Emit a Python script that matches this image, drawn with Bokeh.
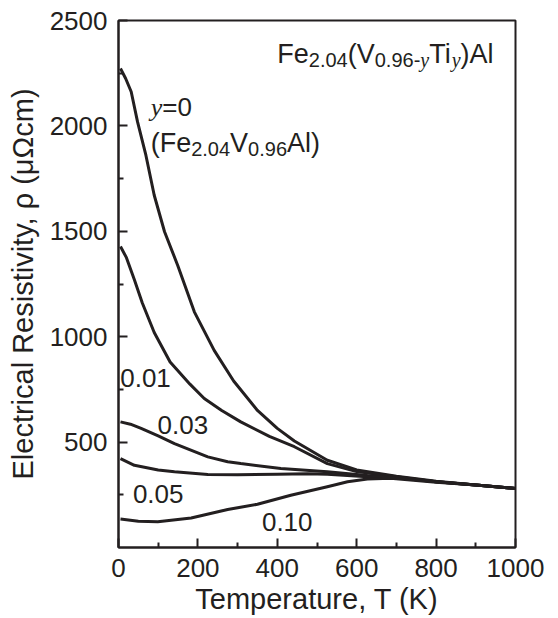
from bokeh.plotting import figure
from bokeh.models import FixedTicker, Label, Range1d
from bokeh.embed import file_html
from bokeh.resources import INLINE

# ---------------- data ----------------
T_y000 = [5, 18, 32, 48, 69, 90, 116, 149, 191, 241, 290, 350, 400, 443, 526, 600, 700, 800, 900, 1000]
R_y000 = [2272, 2225, 2162, 2019, 1861, 1671, 1498, 1339, 1118, 935, 790, 650, 565, 505, 414, 368, 338, 314, 296, 280]

T_y001 = [5, 20, 40, 60, 90, 130, 180, 216, 260, 308, 380, 443, 526, 600, 700, 800, 900, 1000]
R_y001 = [1428, 1375, 1270, 1160, 1020, 880, 775, 707, 650, 596, 527, 478, 398, 360, 336, 312, 296, 280]

T_y003 = [5, 30, 57, 100, 141, 225, 275, 308, 409, 526, 627, 700, 800, 900, 1000]
R_y003 = [596, 585, 565, 530, 493, 430, 407, 398, 375, 359, 342, 333, 312, 296, 280]

T_y005 = [5, 40, 100, 141, 225, 300, 400, 476, 526, 627, 700, 800, 900, 1000]
R_y005 = [422, 390, 368, 359, 346, 345, 348, 350, 348, 336, 331, 312, 296, 280]

T_y010 = [5, 50, 99, 183, 275, 350, 434, 526, 577, 627, 685, 800, 900, 1000]
R_y010 = [135, 125, 122, 140, 180, 205, 248, 288, 312, 325, 328, 310, 296, 280]

curve_labels = ["0.01", "0.03", "0.05", "0.10"]
curve_label_x = [68, 162, 100, 425]
curve_label_y = [802, 579, 256, 123]

x_ticks = [0, 200, 400, 600, 800, 1000]
x_minor = [100, 300, 500, 700, 900]
y_ticks = [500, 1000, 1500, 2000, 2500]
y_minor = [250, 750, 1250, 1750, 2250]

INK = "#231f20"
SANS = "Liberation Sans"
SERIF = "Liberation Serif"

p = figure(frame_width=397, frame_height=527,
           x_range=Range1d(0, 1000), y_range=Range1d(0, 2500),
           output_backend="svg", toolbar_location=None,
           min_border_left=118, min_border_right=30, min_border_top=20, min_border_bottom=40)
p.grid.visible = False
p.outline_line_color = INK
p.outline_line_width = 2
p.background_fill_color = "white"
p.border_fill_color = "white"

p.xaxis.ticker = FixedTicker(ticks=x_ticks, minor_ticks=x_minor)
p.yaxis.ticker = FixedTicker(ticks=y_ticks, minor_ticks=y_minor)
for ax in (p.xaxis, p.yaxis):
    ax.axis_line_width = 2
    ax.axis_line_color = INK
    ax.major_tick_in = 9
    ax.major_tick_out = 0
    ax.minor_tick_in = 5
    ax.minor_tick_out = 0
    ax.major_tick_line_width = 2
    ax.minor_tick_line_width = 2
    ax.major_tick_line_color = INK
    ax.minor_tick_line_color = INK
    ax.major_label_text_font = SANS
    ax.major_label_text_font_size = "26px"
    ax.major_label_text_color = INK
    ax.axis_label_text_font = SANS
    ax.axis_label_text_font_size = "29px"
    ax.axis_label_text_font_style = "normal"
    ax.axis_label_text_color = INK
p.xaxis.axis_label = "Temperature, T (K)"
p.yaxis.axis_label = "Electrical Resistivity, ρ (μΩcm)"
p.xaxis.major_label_standoff = 11
p.xaxis.axis_label_standoff = 3
p.yaxis.major_label_standoff = 11
p.yaxis.axis_label_standoff = 8

for T, R in [(T_y000, R_y000), (T_y001, R_y001), (T_y003, R_y003),
             (T_y005, R_y005), (T_y010, R_y010)]:
    p.line(T, R, line_color=INK, line_width=3, line_join="round")

for t, x, y in zip(curve_labels, curve_label_x, curve_label_y):
    p.add_layout(Label(x=x, y=y, text=t, text_font=SANS, text_font_size="26px",
                       text_color=INK, text_align="center", text_baseline="middle"))

# --- rich text composed of runs ---
W = {'F': .611, 'e': .556, '.': .278, '(': .333, ')': .333, 'V': .667, '-': .333,
     'T': .611, 'i': .222, 'A': .667, 'l': .222, '=': .584, ' ': .278, 'y': .444}
for d in "0123456789":
    W[d] = .556


def runs(x, y, items):
    off = 0.0
    for text, size, font, style, dy in items:
        p.add_layout(Label(x=x, y=y, x_offset=off, y_offset=dy, text=text,
                           text_font=font, text_font_size=f"{size}px",
                           text_font_style=style, text_color=INK,
                           text_align="left", text_baseline="alphabetic"))
        off += sum(W.get(c, .556) for c in text) * size


M, S, D = 27, 20, -6
runs(400, 2343, [("Fe", M, SANS, "normal", 0), ("2.04", S, SANS, "normal", D),
                 ("(V", M, SANS, "normal", 0), ("0.96-", S, SANS, "normal", D),
                 ("y", S, SERIF, "italic", D), ("Ti", M, SANS, "normal", 0),
                 ("y", S, SERIF, "italic", D), (")Al", M, SANS, "normal", 0)])
runs(81, 2089, [("y", 26, SERIF, "italic", 0), ("=0", 26, SANS, "normal", 0)])
runs(81, 1921, [("(Fe", M, SANS, "normal", 0), ("2.04", S, SANS, "normal", D),
                ("V", M, SANS, "normal", 0), ("0.96", S, SANS, "normal", D),
                ("Al)", M, SANS, "normal", 0)])

open("out.html", "w").write(file_html(p, INLINE))
